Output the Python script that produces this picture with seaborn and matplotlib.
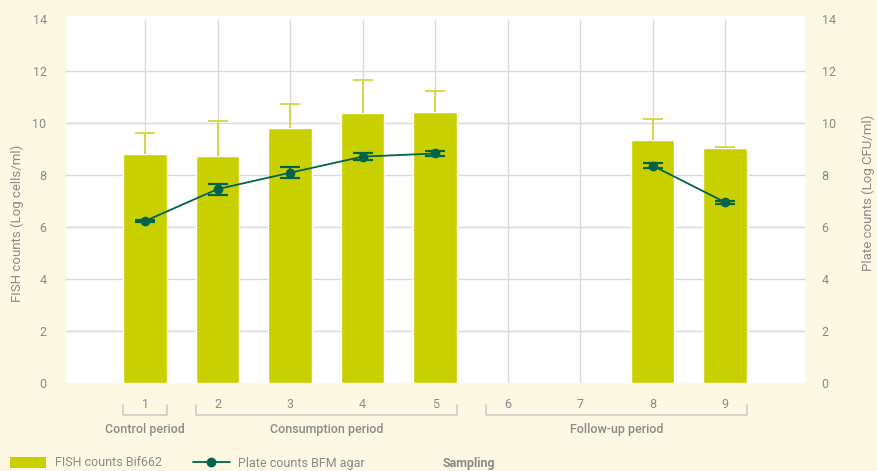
import numpy as np
import pandas as pd
import matplotlib
matplotlib.use("Agg")
import matplotlib.pyplot as plt
import seaborn as sns
from matplotlib.transforms import blended_transform_factory
from matplotlib.lines import Line2D
from matplotlib.patches import Patch

# Sampling points and measured values (log scale)
samplings = ["1", "2", "3", "4", "5", "6", "7", "8", "9"]
fish_counts = [8.80, 8.73, 9.81, 10.38, 10.42, np.nan, np.nan, 9.35, 9.04]
fish_err = [0.83, 1.35, 0.93, 1.27, 0.81, np.nan, np.nan, 0.82, 0.04]
plate_counts = [6.23, 7.46, 8.09, 8.71, 8.83, np.nan, np.nan, 8.36, 6.95]
plate_err = [0.05, 0.21, 0.22, 0.12, 0.11, np.nan, np.nan, 0.10, 0.06]
y_ticks = [0, 2, 4, 6, 8, 10, 12, 14]

# Study periods: name, first and last sampling
periods = [("Control period", "1", "1"),
           ("Consumption period", "2", "5"),
           ("Follow-up period", "6", "9")]

BG = "#FDF8E4"
BAR = "#C9D000"
BAR_ERR = "#D5D84A"
LINE = "#00634A"
TXT = "#8A8A8A"
GRID = "#D9D9D9"

sns.set_theme(style="white")
plt.rcParams["font.family"] = ["Roboto", "DejaVu Sans"]
plt.rcParams["font.size"] = 9

df = pd.DataFrame({"sampling": samplings, "fish": fish_counts, "fish_err": fish_err,
                   "plate": plate_counts, "plate_err": plate_err})
df["pos"] = np.arange(len(df))
# split the plate series where samples are missing so the line breaks there
df["segment"] = df["plate"].isna().cumsum()

fig = plt.figure(figsize=(8.77, 4.71), dpi=100, facecolor=BG)
ax = fig.add_axes([66 / 877, 1 - 383 / 471, 739 / 877, 367 / 471])
ax.set_facecolor("white")

ylim = (0, 14.12)
xlim = (-1.09, len(samplings) - 1 + 1.1)

# grid
for v in y_ticks[1:-1]:
    ax.axhline(v, color=GRID, lw=1, zorder=0)
ax.vlines(df["pos"], 0, 14, color=GRID, lw=1, zorder=0)

sns.barplot(data=df, x="sampling", y="fish", order=samplings, color=BAR,
            saturation=1, width=0.6, errorbar=None, ax=ax, zorder=2)
# upper-only error bars on the FISH counts
_, caps, _ = ax.errorbar(df["pos"], df["fish"], yerr=[np.zeros(len(df)), df["fish_err"]],
                         fmt="none", ecolor=BAR_ERR, elinewidth=1.4, capsize=7,
                         capthick=1.4, zorder=3)
caps[0].remove()

ax.set_xlim(*xlim)
ax.set_ylim(*ylim)
ax.set_yticks(y_ticks)
ax.set_xlabel("")
ax.set_ylabel("")
ax.tick_params(axis="both", length=0, colors=TXT, labelsize=9)
ax.tick_params(axis="x", pad=11)
ax.tick_params(axis="y", pad=14)
for s in ax.spines.values():
    s.set_visible(False)

ax2 = ax.twinx()
ax2.set_ylim(*ylim)
ax2.set_yticks(y_ticks)
ax2.tick_params(axis="y", length=0, colors=TXT, labelsize=9, pad=12)
for s in ax2.spines.values():
    s.set_visible(False)

sns.lineplot(data=df.dropna(subset=["plate"]), x="pos", y="plate", units="segment",
             estimator=None, color=LINE, lw=1.3, marker="o", markersize=7,
             markeredgewidth=0, ax=ax2, zorder=5)
ax2.errorbar(df["pos"], df["plate"], yerr=df["plate_err"], fmt="none",
             ecolor=LINE, elinewidth=1.4, capsize=7, capthick=1.6, zorder=4)
ax2.set_xlim(*xlim)
ax2.set_xlabel("")
ax2.set_ylabel("")

# period brackets below the category labels
trans = blended_transform_factory(ax.transData, ax.transAxes)
idx = {s: i for i, s in enumerate(samplings)}
for name, first, last in periods:
    x0 = idx[first] - 0.3
    x1 = idx[last] + 0.3
    ax.plot([x0, x0, x1, x1], [-0.060, -0.088, -0.088, -0.060], color="#C8C8C8",
            lw=1.1, transform=trans, clip_on=False)
    ax.text((x0 + x1) / 2, -0.128, name, transform=trans, ha="center", va="center",
            color=TXT, fontsize=9, fontweight="medium")

# axis titles
fig.text(17 / 877, 1 - 223 / 471, "FISH counts (Log cells/ml)", rotation=90,
         ha="center", va="center", color=TXT, fontsize=9.5)
fig.text(862 / 877, 1 - 193 / 471, "Plate counts (Log CFU/ml)", rotation=90,
         ha="left", va="center", color=TXT, fontsize=9.5)

# legend
handles = [Patch(facecolor=BAR, edgecolor="none"),
           Line2D([0], [0], color=LINE, lw=1.3, marker="o", markersize=7, markeredgewidth=0)]
fig.legend(handles, ["FISH counts Bif662", "Plate counts BFM agar"], loc="center left",
           bbox_to_anchor=(10 / 877, 1 - 463 / 471), ncol=2, frameon=False,
           borderpad=0, borderaxespad=0, handlelength=2.9, handleheight=1.0,
           handletextpad=0.7, columnspacing=2.5, labelcolor=TXT, fontsize=9)
fig.text(443 / 877, 1 - 463 / 471, "Sampling", ha="left", va="center",
         color=TXT, fontsize=9, fontweight="bold")

fig.savefig("out.png", dpi=100, facecolor=BG)
